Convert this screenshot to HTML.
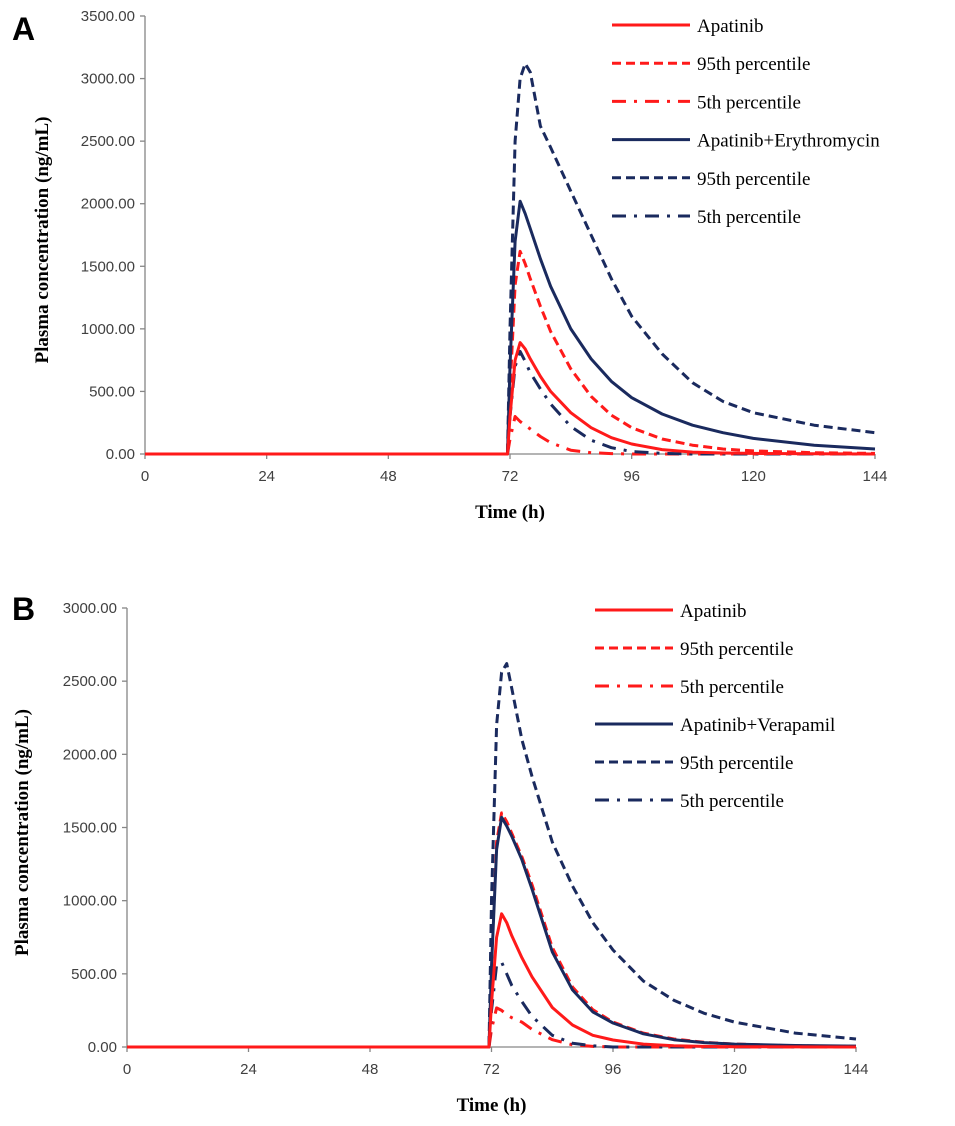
<!DOCTYPE html>
<html><head><meta charset="utf-8"><style>
body{margin:0;background:#fff}
svg{display:block}
.tk{font-family:"Liberation Sans",sans-serif;font-size:15px;fill:#404040}
.ttl{font-family:"Liberation Serif",serif;font-size:19px;font-weight:bold;fill:#000}
.lg{font-family:"Liberation Serif",serif;font-size:19px;fill:#000}
.pl{font-family:"Liberation Sans",sans-serif;font-size:32px;font-weight:bold;fill:#000}
</style></head><body>
<svg id="s" width="955" height="1126" xmlns="http://www.w3.org/2000/svg"></svg>
<script>
const times=[0,71.5,72,73,74,75,76,78,80,84,88,92,96,102,108,114,120,132,144];
const xTicks=[0,24,48,72,96,120,144];
// Panel A series
const aApa=[0,0,300,750,890,840,760,620,500,330,210,130,80,35,15,8,5,2,0];
const aApa95=[0,0,500,1350,1620,1520,1400,1180,980,680,460,310,210,120,70,40,25,10,5];
const aApa5=[0,0,120,300,260,230,200,140,90,30,10,3,0,0,0,0,0,0,0];
const aEry=[0,0,700,1700,2020,1920,1800,1560,1340,1000,760,580,450,320,230,170,125,70,40];
const aEry95=[0,0,1000,2500,3000,3120,3050,2620,2450,2100,1750,1400,1100,800,570,420,330,230,170];
const aEry5=[0,0,300,700,820,740,650,520,400,220,110,50,20,5,0,0,0,0,0];
// Panel B series
const bApa=[0,0,300,750,910,850,760,610,480,270,150,80,48,20,8,4,2,1,0];
const bApa95=[0,0,600,1400,1600,1540,1460,1300,1110,680,410,255,170,95,55,32,20,8,5];
const bApa5=[0,0,120,267,250,220,200,170,120,50,15,4,0,0,0,0,0,0,0];
const bVer=[0,0,550,1350,1570,1510,1440,1280,1080,650,390,240,164,90,50,30,20,10,6];
const bVer95=[0,0,1000,2200,2560,2620,2450,2100,1850,1400,1100,850,663,450,320,230,170,95,55];
const bVer5=[0,0,250,560,580,500,420,310,210,80,25,8,0,0,0,0,0,0,0];

const NS="http://www.w3.org/2000/svg";
const svg=document.getElementById('s');
function el(t,a,p){const e=document.createElementNS(NS,t);for(const k in a)e.setAttribute(k,a[k]);(p||svg).appendChild(e);return e;}
const RED="#ff1a1a",NAVY="#1a2a5e";
const styles={solid:"",dash:"9,5",dashdot:"14,8,3,8"};

function panel(P){
  const g=el('g',{});
  
  
  const X=t=>P.x0+(P.x1-P.x0)*t/144;
  const Y=v=>P.y0-(P.y0-P.yTop)*v/P.yMax;
  const ax=el('line',{x1:X(0),y1:P.yTop,x2:X(0),y2:P.y0,stroke:'#868686','stroke-width':1.3},g);
  
  const ax2=el('line',{x1:X(0),y1:P.y0,x2:X(144),y2:P.y0,stroke:'#868686','stroke-width':1.3},g);
  
  for(let v=0;v<=P.yMax;v+=500){
    el('line',{x1:X(0)-5,y1:Y(v),x2:X(0),y2:Y(v),stroke:'#868686','stroke-width':1.3},g);
    const t=el('text',{x:X(0)-10,y:Y(v)+5,'text-anchor':'end',class:'tk'},g);t.textContent=v.toFixed(2);
    
  }
  xTicks.forEach(v=>{
    el('line',{x1:X(v),y1:P.y0,x2:X(v),y2:P.y0+5,stroke:'#868686','stroke-width':1.3},g);
    const t=el('text',{x:X(v),y:P.y0+27,'text-anchor':'middle',class:'tk'},g);t.textContent=v;
    
  });
  const xt=el('text',{x:(X(0)+X(144))/2,y:P.y0+64,'text-anchor':'middle',class:'ttl'},g);xt.textContent='Time (h)';
  
  const yc=(P.y0+P.yTop)/2+5;
  const yt=el('text',{x:P.yTitleX,y:yc,'text-anchor':'middle',class:'ttl',transform:`rotate(-90 ${P.yTitleX} ${yc})`},g);yt.textContent='Plasma concentration (ng/mL)';
  
  const pl=el('text',{x:P.lx,y:P.ly,class:'pl'},g);pl.textContent=P.id;
  
  const order=[1,2,4,5,3,0];
  order.forEach(i=>{
    const s=P.series[i];
    const d=times.map((t,j)=>(j?'L':'M')+X(t).toFixed(1)+','+Y(s.v[j]).toFixed(1)).join('');
    const p=el('path',{d:d,fill:'none',stroke:s.c,'stroke-width':3,'stroke-dasharray':styles[s.st],'stroke-linejoin':'round'},g);
    
  });
  P.series.forEach((s,i)=>{
    const ly=P.legY+i*P.legDy;
    const lg=el('g',{},g);
    
    el('line',{x1:P.legX,y1:ly,x2:P.legX+78,y2:ly,stroke:s.c,'stroke-width':3,'stroke-dasharray':styles[s.st]},lg);
    const t=el('text',{x:P.legX+85,y:ly+7,class:'lg'},lg);t.textContent=s.label;
  });
}
panel({id:'A',x0:145,x1:875,y0:454,yTop:16,yMax:3500,yTitleX:48,lx:12,ly:40,legX:612,legY:25,legDy:38.2,
 series:[
  {v:aApa,c:RED,st:'solid',label:'Apatinib',name:'apatinib-mean-line'},
  {v:aApa95,c:RED,st:'dash',label:'95th percentile',name:'apatinib-95th-line'},
  {v:aApa5,c:RED,st:'dashdot',label:'5th percentile',name:'apatinib-5th-line'},
  {v:aEry,c:NAVY,st:'solid',label:'Apatinib+Erythromycin',name:'erythromycin-mean-line'},
  {v:aEry95,c:NAVY,st:'dash',label:'95th percentile',name:'erythromycin-95th-line'},
  {v:aEry5,c:NAVY,st:'dashdot',label:'5th percentile',name:'erythromycin-5th-line'}
 ]});
panel({id:'B',x0:127,x1:856,y0:1047,yTop:608,yMax:3000,yTitleX:28,lx:12,ly:620,legX:595,legY:610,legDy:38,
 series:[
  {v:bApa,c:RED,st:'solid',label:'Apatinib',name:'apatinib-mean-line'},
  {v:bApa95,c:RED,st:'dash',label:'95th percentile',name:'apatinib-95th-line'},
  {v:bApa5,c:RED,st:'dashdot',label:'5th percentile',name:'apatinib-5th-line'},
  {v:bVer,c:NAVY,st:'solid',label:'Apatinib+Verapamil',name:'verapamil-mean-line'},
  {v:bVer95,c:NAVY,st:'dash',label:'95th percentile',name:'verapamil-95th-line'},
  {v:bVer5,c:NAVY,st:'dashdot',label:'5th percentile',name:'verapamil-5th-line'}
 ]});
</script>
</body></html>
